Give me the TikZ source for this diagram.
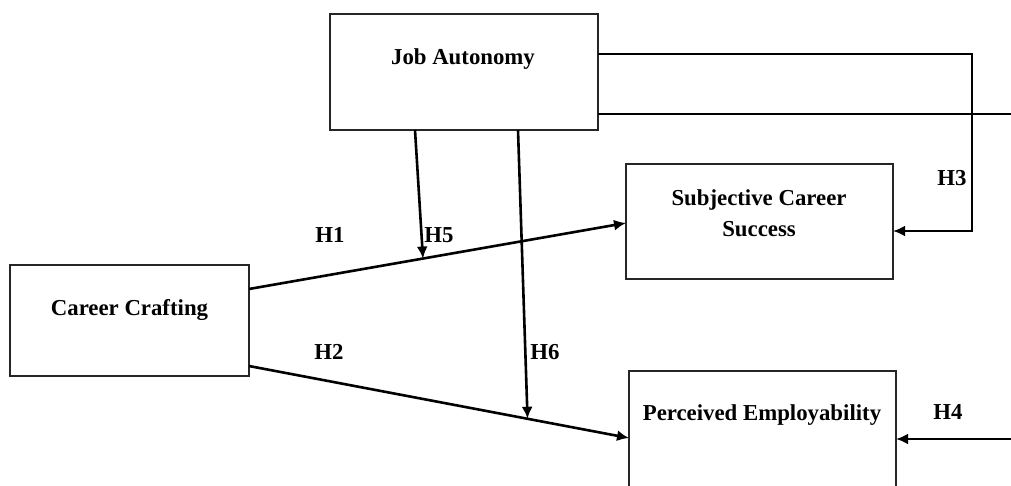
\documentclass[tikz,border=0pt]{standalone}
\usepackage{fontspec}
\setmainfont{Liberation Serif}
\usetikzlibrary{arrows.meta,calc}
\begin{document}
\begin{tikzpicture}[x=1pt,y=-1pt,
  box/.style={draw=black!85,line width=1.3pt,anchor=north west,inner sep=0pt,outer sep=0pt},
  txt/.style={font=\bfseries\fontsize{22.8}{31}\selectfont,align=center,inner sep=0pt},
  conn/.style={line width=2.6pt,draw=black},
  arr/.style={conn,-{Latex[length=12pt,width=11pt]}}]
\useasboundingbox (0,0) rectangle (1011,485);
\fill[white] (0,0) rectangle (1011,485);
\clip (0,0) rectangle (1011,485);
% boxes
\node[box,minimum width=268pt,minimum height=116pt] (ja) at (330,14) {};
\node[box,minimum width=267pt,minimum height=115pt] (scs) at (626,164) {};
\node[box,minimum width=239pt,minimum height=111pt] (cc) at (10,265) {};
\node[box,minimum width=267pt,minimum height=140pt] (pe) at (629,371) {};
% box texts
\node[txt] (jat) at (463,59) {Job Autonomy};
\node[txt] (scst) at (759,213.5) {Subjective Career\\Success};
\node[txt] (cct) at (129.5,310) {Career Crafting};
\node[txt] (pet) at (762,415) {Perceived Employability};
% free ends
\coordinate (r1) at (1011,114);
\coordinate (r2) at (1011,439);
\coordinate (h1s) at ($(cc.north east)+(0,24)$);
\coordinate (h1e) at ($(scs.north west)+(0,59)$);
\coordinate (h2s) at ($(cc.north east)+(0,101)$);
\coordinate (h2e) at ($(pe.north west)+(0,67)$);
\coordinate (h5e) at ($(h1s)!0.4615!(h1e)$);
\coordinate (h6e) at ($(h2s)!0.733!(h2e)$);
% connectors
\draw[arr] (h1s) -- (h1e);
\draw[arr] (h2s) -- (h2e);
\draw[arr] ($(ja.south west)+(85,0)$) -- (h5e);
\draw[arr] ($(ja.south west)+(188,0)$) -- (h6e);
\draw[arr] ($(ja.north east)+(0,40)$) -- ++(374,0) |- ($(scs.north east)+(0,67)$);
\draw[conn] ($(ja.north east)+(0,100)$) -- (r1);
\draw[arr] (r2) -- ($(pe.north east)+(0,68)$);
% labels
\node[txt] (l1) at (330,235) {H1};
\node[txt] (l5) at (439,235) {H5};
\node[txt] (l2) at (329,352) {H2};
\node[txt] (l6) at (545,352) {H6};
\node[txt] (l3) at (952,178) {H3};
\node[txt] (l4) at (948,412) {H4};
\end{tikzpicture}
\end{document}
